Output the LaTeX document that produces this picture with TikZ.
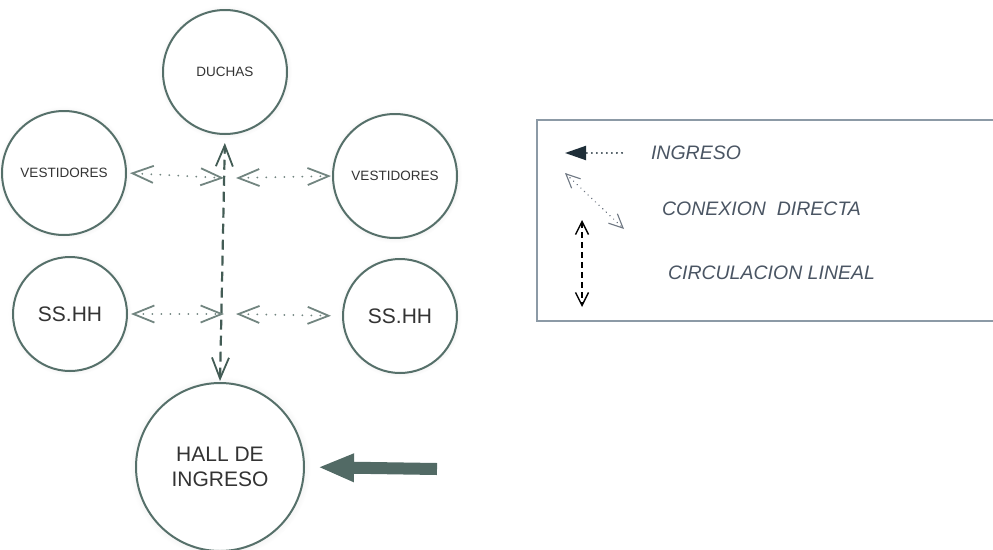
\documentclass[tikz,border=0pt]{standalone}
\usepackage{fontspec}
\setmainfont{Liberation Sans}
\usetikzlibrary{arrows.meta,shadows}
\definecolor{ringgreen}{HTML}{56706A}
\definecolor{linegreen}{HTML}{435C55}
\definecolor{legendtext}{HTML}{4A5563}
\definecolor{legendframe}{HTML}{8C9AA6}
\definecolor{entryblue}{HTML}{1E2E38}
\tikzset{vbarb/.tip={Straight Barb[length=21pt,width=17pt,line width=1.8pt]},
  lbarb/.tip={Straight Barb[length=14pt,width=13pt,line width=1.1pt]},
  kbarb/.tip={Straight Barb[length=13pt,width=13pt,line width=1.4pt]}}
\begin{document}
\begin{tikzpicture}[x=1pt,y=-1pt,line width=2pt,
  room/.style={circle,draw=ringgreen,fill=white,inner sep=0pt,text=black!80,align=center,
    circular drop shadow={shadow xshift=0pt,shadow yshift=0pt,shadow scale=1.08,opacity=0.15}},
  link/.style={linegreen!75,line width=2pt,dash pattern=on 0.01pt off 9pt,line cap=round,vbarb-vbarb},
  walk/.style={linegreen,line width=2.2pt,dash pattern=on 10pt off 6pt,vbarb-vbarb},
  legtext/.style={text=legendtext,font=\fontsize{19.5}{22}\selectfont\itshape,anchor=west,inner sep=0pt}]
\useasboundingbox (0,0) rectangle (993,549);
% rooms
\node[room,minimum size=124pt,font=\fontsize{13.5}{16}\selectfont] (duchas) at (225,72) {DUCHAS};
\node[room,minimum size=124pt,font=\fontsize{13.5}{16}\selectfont] (vestL) at (64,173) {VESTIDORES};
\node[room,minimum size=124pt,font=\fontsize{13.5}{16}\selectfont] (vestR) at (395,176) {VESTIDORES};
\node[room,minimum size=114pt,font=\fontsize{21}{25}\selectfont] (sshhL) at (70,314) {SS.HH};
\node[room,minimum size=114pt,font=\fontsize{21}{25}\selectfont] (sshhR) at (400,316) {SS.HH};
\node[room,minimum size=168pt,font=\fontsize{21}{25}\selectfont] (hall) at (220,467) {HALL DE\\INGRESO};
% linear circulation
\draw[walk,shorten <=1pt,shorten >=8pt] (hall.north) -- (duchas.south);
% direct connections
\coordinate (axisV) at (224,178);
\coordinate (axisV2) at (236,178);
\coordinate (axisS) at (224,314);
\coordinate (axisS2) at (236,314);
\draw[link,shorten <=3pt] (vestL.east) -- (axisV);
\draw[link,shorten >=1pt] (axisV2) -- (vestR.west);
\draw[link,shorten <=3pt] (sshhL.east) -- (axisS);
\draw[link,shorten >=11pt] (axisS2) -- (sshhR.west);
% main entry
\coordinate (entry) at (437,469);
\draw[ringgreen!95!black,line width=12pt,-{Triangle[length=36pt,width=26pt]},shorten >=13pt] (entry) -- (hall.east);
% legend
\draw[legendframe,line width=1.3pt] (993,120) -- (537,120) -- (537,321) -- (993,321);
\coordinate (ingA) at (622,153);
\coordinate (ingB) at (565,153);
\draw[entryblue,line width=2pt,dash pattern=on 0.01pt off 5pt,line cap=round,-{Triangle[length=21pt,width=14pt]}] (ingA) -- (ingB);
\node[legtext] (lgIng) at (650,153) {INGRESO};
\coordinate (conA) at (565,173);
\coordinate (conB) at (624,229);
\draw[legendtext!80,line width=1.6pt,dash pattern=on 0.01pt off 5pt,line cap=round,lbarb-lbarb] (conA) -- (conB);
\node[legtext] (lgCon) at (661,209) {CONEXION\ \ DIRECTA};
\coordinate (cirA) at (582,220);
\coordinate (cirB) at (582,307);
\draw[black,line width=2pt,dash pattern=on 6pt off 4pt,kbarb-kbarb] (cirA) -- (cirB);
\node[legtext] (lgCir) at (667,273) {CIRCULACION LINEAL};
\end{tikzpicture}
\end{document}
